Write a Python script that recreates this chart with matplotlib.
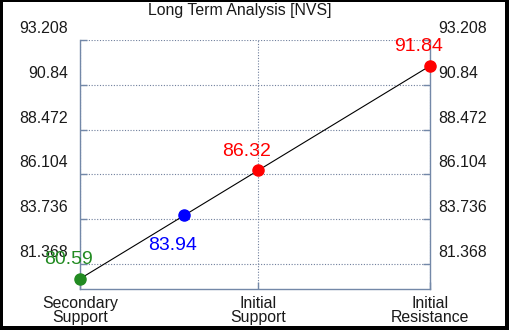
import matplotlib
matplotlib.use("Agg")
import matplotlib.pyplot as plt
from matplotlib.transforms import ScaledTranslation
from matplotlib.patches import Rectangle

plt.rcParams['font.family'] = ['Liberation Sans', 'DejaVu Sans']

# Data
title = "Long Term Analysis [NVS]"
point_values = [80.59, 83.94, 86.32, 91.84]
point_colors = ['#228B22', '#0000FF', '#FF0000', '#FF0000']
label_dy_px = [15, -35, 14, 15]
xtick_values = [80.59, 86.32, 91.84]
xtick_labels = ["Secondary\nSupport", "Initial\nSupport", "Initial\nResistance"]
ytick_values = [81.368, 83.736, 86.104, 88.472, 90.84, 93.208]
ytick_labels = ["81.368", "83.736", "86.104", "88.472", "90.84", "93.208"]
y_min, y_max = 80.05, 93.208

W, H, DPI = 510, 330, 100
fig = plt.figure(figsize=(W / DPI, H / DPI), dpi=DPI, facecolor='black')
# white panel inside the black frame
fig.patches.append(Rectangle((3 / W, 4 / H), (505 - 3) / W, (328 - 4) / H,
                             transform=fig.transFigure, facecolor='white',
                             edgecolor='none', zorder=0))

ax = fig.add_axes([80 / W, (H - 289) / H, 350 / W, 249 / H])
ax.set_zorder(2)
ax.set_facecolor('white')

spine_c = '#7388a8'
grid_c = '#6f7f9c'

ax.plot(point_values, point_values, color='black', linewidth=0.8, zorder=3)
for v, c, dy in zip(point_values, point_colors, label_dy_px):
    ax.plot([v], [v], 'o', color=c, markersize=8, zorder=4, clip_on=False)
    ax.annotate(f"{v:.2f}", (v, v), xytext=(-11.5, dy), textcoords='offset pixels',
                ha='center', va='baseline', color=c, fontsize=14, zorder=5,
                annotation_clip=False)

ax.set_xlim(point_values[0], point_values[-1])
ax.set_ylim(y_min, y_max)
ax.set_xticks(xtick_values)
ax.set_xticklabels(xtick_labels, linespacing=0.95)
ax.set_yticks(ytick_values)
ax.set_yticklabels(ytick_labels)

ax.grid(True, color=grid_c, linestyle=(0, (1, 1.5)), linewidth=0.8)
ax.set_axisbelow(True)

for s in ['left', 'right', 'bottom']:
    ax.spines[s].set_color(spine_c)
    ax.spines[s].set_linewidth(1.0)
ax.spines['top'].set_visible(False)

ax.tick_params(axis='both', direction='in', length=5, width=1, color=spine_c,
               labelcolor='#1a1a1a', labelsize=11.4)
ax.tick_params(axis='y', left=True, right=True, labelleft=True, labelright=True, pad=8.6)
ax.tick_params(axis='x', top=False, pad=5)

off_up = ScaledTranslation(0, 13 / DPI, fig.dpi_scale_trans)
off_right = ScaledTranslation(-4 / DPI, 13 / DPI, fig.dpi_scale_trans)
for t in ax.yaxis.get_major_ticks():
    t.label1.set_transform(t.label1.get_transform() + off_up)
    t.label2.set_transform(t.label2.get_transform() + off_right)

fig.text(240 / W, 1 - 15 / H, title, ha='center', va='baseline', fontsize=11.4,
         color='#1a1a1a', zorder=3)

fig.savefig('out.png', dpi=DPI, facecolor='black')
